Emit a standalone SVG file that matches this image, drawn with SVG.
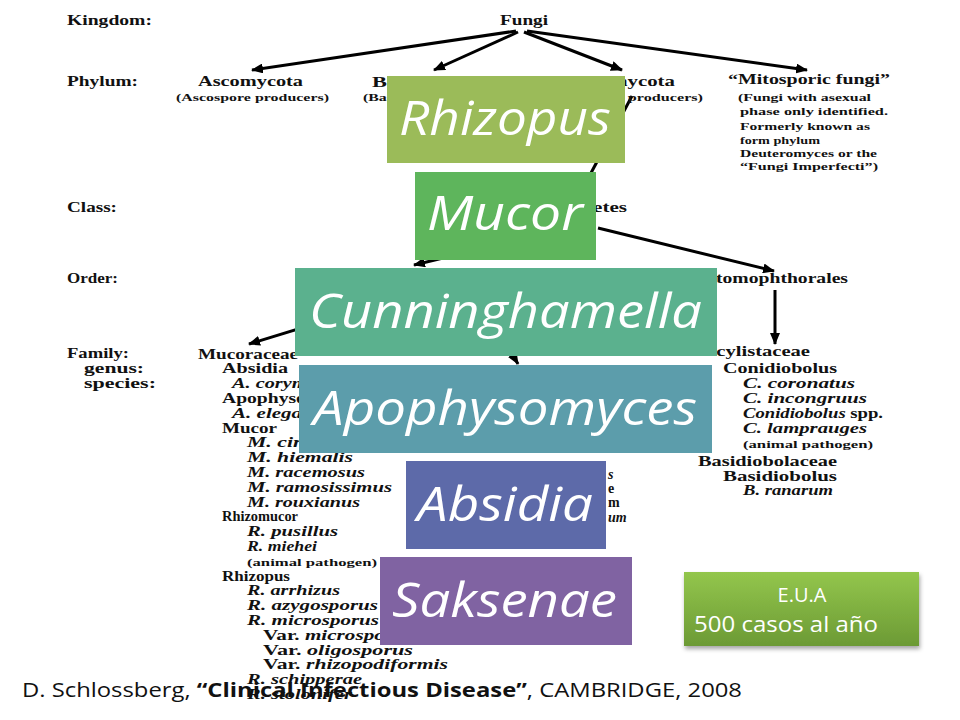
<svg xmlns="http://www.w3.org/2000/svg" width="960" height="720" viewBox="0 0 960 720">
<defs>
<marker id="ah" viewBox="0 0 12 10" refX="11" refY="5" markerWidth="12" markerHeight="10" markerUnits="userSpaceOnUse" orient="auto"><path d="M0,0 L12,5 L0,10 z" fill="#000"/></marker>
<linearGradient id="eua" x1="0" y1="0" x2="0" y2="1"><stop offset="0" stop-color="#93C64C"/><stop offset="1" stop-color="#6C9A35"/></linearGradient>
<filter id="sh" x="-10%" y="-10%" width="130%" height="140%"><feDropShadow dx="1" dy="3" stdDeviation="2" flood-color="#000" flood-opacity="0.35"/></filter>
</defs>
<style>
.t{font-family:"Liberation Serif","Times New Roman",serif;font-weight:bold;font-size:14px;fill:#111}
.l{font-family:"Liberation Serif","Times New Roman",serif;font-weight:bold;font-size:14px;fill:#111}
.i{font-style:italic}
.s{font-size:11px}
.c{stroke:#000;stroke-width:3;fill:none;marker-end:url(#ah)}
.lbl{font-family:"Open Sans","Noto Sans",sans-serif;font-style:italic;font-size:47px;fill:#fff}
.foot{font-family:"Open Sans","Noto Sans",sans-serif;font-size:20px;fill:#111}
</style>
<rect width="960" height="720" fill="#fff"/>

<g id="ranks">
<text class="t" x="67" y="25" textLength="85" lengthAdjust="spacingAndGlyphs">Kingdom:</text>
<text class="t" x="67" y="86" textLength="71" lengthAdjust="spacingAndGlyphs">Phylum:</text>
<text class="t" x="67" y="212" textLength="50" lengthAdjust="spacingAndGlyphs">Class:</text>
<text class="t" x="67" y="283" textLength="51" lengthAdjust="spacingAndGlyphs">Order:</text>
<text class="t" x="67" y="358" textLength="62" lengthAdjust="spacingAndGlyphs">Family:</text>
<text class="t" x="84" y="373" textLength="60" lengthAdjust="spacingAndGlyphs">genus:</text>
<text class="t" x="84" y="388" textLength="72" lengthAdjust="spacingAndGlyphs">species:</text>
</g>

<g id="connectors">
<line class="c" x1="516" y1="31" x2="252" y2="70"/>
<line class="c" x1="518" y1="32" x2="434" y2="70"/>
<line class="c" x1="524" y1="32" x2="622" y2="70"/>
<line class="c" x1="527" y1="31" x2="807" y2="70"/>
<line class="c" x1="632" y1="96" x2="583" y2="188"/>
<line class="c" x1="560" y1="230" x2="414" y2="265"/>
<line class="c" x1="598" y1="228" x2="774" y2="271"/>
<line class="c" x1="775" y1="290" x2="775" y2="344"/>
<line class="c" x1="360" y1="310" x2="249" y2="344"/>
<line class="c" x1="480" y1="300" x2="518" y2="364"/>
</g>

<g id="tree-phylum">
<text class="t" x="500" y="25" textLength="48" lengthAdjust="spacingAndGlyphs">Fungi</text>
<text class="t" x="198" y="86" textLength="105" lengthAdjust="spacingAndGlyphs">Ascomycota</text>
<text class="t s" x="176" y="101" textLength="153" lengthAdjust="spacingAndGlyphs">(Ascospore producers)</text>
<text class="t" x="372" y="87" textLength="140" lengthAdjust="spacingAndGlyphs">Basidiomycota</text>
<text class="t s" x="363" y="101" textLength="170" lengthAdjust="spacingAndGlyphs">(Basidiospore producers)</text>
<text class="t" x="565" y="86" textLength="110" lengthAdjust="spacingAndGlyphs">Zygomycota</text>
<text class="t s" x="546" y="101" textLength="157" lengthAdjust="spacingAndGlyphs">(Zygospore producers)</text>
<text class="t" x="728" y="84" textLength="162" lengthAdjust="spacingAndGlyphs">“Mitosporic fungi”</text>
<text class="t s" x="738" y="101" textLength="133" lengthAdjust="spacingAndGlyphs">(Fungi with asexual</text>
<text class="t s" x="740" y="115" textLength="148" lengthAdjust="spacingAndGlyphs">phase only identified.</text>
<text class="t s" x="740" y="130" textLength="130" lengthAdjust="spacingAndGlyphs">Formerly known as</text>
<text class="t s" x="740" y="144" textLength="80" lengthAdjust="spacingAndGlyphs">form phylum</text>
<text class="t s" x="740" y="157" textLength="137" lengthAdjust="spacingAndGlyphs">Deuteromyces or the</text>
<text class="t s" x="740" y="170" textLength="138" lengthAdjust="spacingAndGlyphs">“Fungi Imperfecti”)</text>
</g>

<g id="tree-class-order">
<text class="t" x="510" y="212" textLength="117" lengthAdjust="spacingAndGlyphs">Zygomycetes</text>
<text class="t" x="692" y="283" textLength="156" lengthAdjust="spacingAndGlyphs">Entomophthorales</text>
</g>

<g id="tree-mucoraceae">
<text class="l" x="198" y="358.5" textLength="100" lengthAdjust="spacingAndGlyphs">Mucoraceae</text>
<text class="l" x="222" y="373.3" textLength="66" lengthAdjust="spacingAndGlyphs">Absidia</text>
<text class="l i" x="232" y="388.1" textLength="125" lengthAdjust="spacingAndGlyphs">A. corymbifera</text>
<text class="l" x="222" y="402.9" textLength="135" lengthAdjust="spacingAndGlyphs">Apophysomyces</text>
<text class="l i" x="232" y="417.7" textLength="90" lengthAdjust="spacingAndGlyphs">A. elegans</text>
<text class="l" x="222" y="432.5" textLength="55" lengthAdjust="spacingAndGlyphs">Mucor</text>
<text class="l i" x="247" y="447.3" textLength="150" lengthAdjust="spacingAndGlyphs">M. circinelloides</text>
<text class="l i" x="247" y="462.1" textLength="106" lengthAdjust="spacingAndGlyphs">M. hiemalis</text>
<text class="l i" x="247" y="476.9" textLength="118" lengthAdjust="spacingAndGlyphs">M. racemosus</text>
<text class="l i" x="247" y="491.7" textLength="145" lengthAdjust="spacingAndGlyphs">M. ramosissimus</text>
<text class="l i" x="247" y="506.5" textLength="113" lengthAdjust="spacingAndGlyphs">M. rouxianus</text>
<text class="l" x="222" y="521.3" textLength="76" lengthAdjust="spacingAndGlyphs">Rhizomucor</text>
<text class="l i" x="247" y="536.1" textLength="91" lengthAdjust="spacingAndGlyphs">R. pusillus</text>
<text class="l i" x="247" y="550.9" textLength="70" lengthAdjust="spacingAndGlyphs">R. miehei</text>
<text class="l s" x="247" y="565.7" textLength="130" lengthAdjust="spacingAndGlyphs">(animal pathogen)</text>
<text class="l" x="222" y="580.5" textLength="68" lengthAdjust="spacingAndGlyphs">Rhizopus</text>
<text class="l i" x="247" y="595.3" textLength="93" lengthAdjust="spacingAndGlyphs">R. arrhizus</text>
<text class="l i" x="247" y="610.1" textLength="131" lengthAdjust="spacingAndGlyphs">R. azygosporus</text>
<text class="l i" x="247" y="624.9" textLength="132" lengthAdjust="spacingAndGlyphs">R. microsporus</text>
<text class="l" x="263" y="639.7" textLength="150" lengthAdjust="spacingAndGlyphs">Var. <tspan class="i">microsporus</tspan></text>
<text class="l" x="263" y="654.5" textLength="150" lengthAdjust="spacingAndGlyphs">Var. <tspan class="i">oligosporus</tspan></text>
<text class="l" x="263" y="669.3" textLength="185" lengthAdjust="spacingAndGlyphs">Var. <tspan class="i">rhizopodiformis</tspan></text>
<text class="l i" x="247" y="684.1" textLength="115" lengthAdjust="spacingAndGlyphs">R. schipperae</text>
<text class="l i" x="247" y="698.9" textLength="105" lengthAdjust="spacingAndGlyphs">R. stolonifer</text>
</g>

<g id="tree-middle">
<text class="l i" x="608" y="479">s</text>
<text class="l" x="608" y="493">e</text>
<text class="l" x="608" y="507">m</text>
<text class="l i" x="608" y="522">um</text>
</g>

<g id="tree-entomophthorales">
<text class="l" x="690" y="356" textLength="120" lengthAdjust="spacingAndGlyphs">Ancylistaceae</text>
<text class="l" x="723" y="372.5" textLength="114" lengthAdjust="spacingAndGlyphs">Conidiobolus</text>
<text class="l i" x="743" y="387.5" textLength="112" lengthAdjust="spacingAndGlyphs">C. coronatus</text>
<text class="l i" x="743" y="402.5" textLength="124" lengthAdjust="spacingAndGlyphs">C. incongruus</text>
<text class="l" x="743" y="417.5" textLength="140" lengthAdjust="spacingAndGlyphs"><tspan class="i">Conidiobolus</tspan> spp.</text>
<text class="l i" x="743" y="432.5" textLength="124" lengthAdjust="spacingAndGlyphs">C. lamprauges</text>
<text class="l s" x="743" y="447.5" textLength="130" lengthAdjust="spacingAndGlyphs">(animal pathogen)</text>
<text class="l" x="698" y="465.5" textLength="139" lengthAdjust="spacingAndGlyphs">Basidiobolaceae</text>
<text class="l" x="723" y="480.5" textLength="114" lengthAdjust="spacingAndGlyphs">Basidiobolus</text>
<text class="l i" x="743" y="494.5" textLength="90" lengthAdjust="spacingAndGlyphs">B. ranarum</text>
</g>

<g id="box-rhizopus">
<rect x="387" y="76" width="238" height="87" fill="#9BBB59"/>
<text class="lbl" x="399" y="135" textLength="212" lengthAdjust="spacingAndGlyphs">Rhizopus</text>
</g>
<g id="box-mucor">
<rect x="415" y="172" width="181" height="88" fill="#5EB55C"/>
<text class="lbl" x="427" y="230" textLength="156" lengthAdjust="spacingAndGlyphs">Mucor</text>
</g>
<g id="box-cunninghamella">
<rect x="295" y="268" width="422" height="88" fill="#5BB18E"/>
<text class="lbl" x="309" y="328" textLength="393" lengthAdjust="spacingAndGlyphs">Cunninghamella</text>
</g>
<g id="box-apophysomyces">
<rect x="299" y="365" width="413" height="88" fill="#5C9DAB"/>
<text class="lbl" x="313" y="425" textLength="384" lengthAdjust="spacingAndGlyphs">Apophysomyces</text>
</g>
<g id="box-absidia">
<rect x="406" y="461" width="200" height="88" fill="#5D6AA9"/>
<text class="lbl" x="417" y="521" textLength="176" lengthAdjust="spacingAndGlyphs">Absidia</text>
</g>
<g id="box-saksenae">
<rect x="380" y="557" width="252" height="88" fill="#8063A2"/>
<text class="lbl" x="392" y="617" textLength="225" lengthAdjust="spacingAndGlyphs">Saksenae</text>
</g>

<g id="box-eua">
<rect x="684" y="572" width="235" height="74" fill="url(#eua)" filter="url(#sh)"/>
<text x="802" y="602" text-anchor="middle" font-family="'Open Sans','Noto Sans',sans-serif" font-size="20" fill="#fff">E.U.A</text>
<text x="694" y="632" textLength="184" lengthAdjust="spacingAndGlyphs" font-family="'Open Sans','Noto Sans',sans-serif" font-size="21" fill="#fff">500 casos al año</text>
</g>

<g id="footer">
<text class="foot" x="22" y="697" textLength="720" lengthAdjust="spacingAndGlyphs">D. Schlossberg, <tspan font-weight="bold">“Clinical Infectious Disease”</tspan>, CAMBRIDGE, 2008</text>
</g>
</svg>
